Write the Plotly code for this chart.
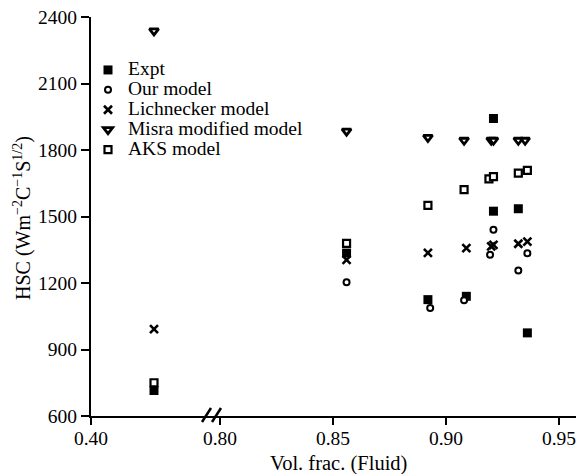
import plotly.graph_objects as go

# ---- data ----
series_names = ["Expt", "Our model", "Lichnecker model", "Misra modified model", "AKS model"]

expt_x = [0.60, 0.856, 0.892, 0.909, 0.921, 0.921, 0.932, 0.936]
expt_y = [715, 1335, 1125, 1140, 1942, 1524, 1535, 975]

our_x = [0.60, 0.856, 0.893, 0.908, 0.921, 0.9195, 0.932, 0.936]
our_y = [745, 1203, 1087, 1122, 1440, 1327, 1256, 1334]

lich_x = [0.60, 0.856, 0.892, 0.909, 0.920, 0.921, 0.932, 0.936]
lich_y = [992, 1304, 1336, 1357, 1365, 1372, 1377, 1387]

misra_x = [0.60, 0.856, 0.892, 0.908, 0.920, 0.921, 0.932, 0.935]
misra_y = [2337, 1885, 1857, 1844, 1844, 1844, 1844, 1844]

aks_x = [0.60, 0.856, 0.892, 0.908, 0.919, 0.921, 0.932, 0.936]
aks_y = [750, 1379, 1550, 1621, 1670, 1680, 1696, 1708]

left_ticks = [0.40]
right_ticks = [0.80, 0.85, 0.90, 0.95]
y_ticks = [600, 900, 1200, 1500, 1800, 2100, 2400]

BREAK = 0.78  # values below go on the left segment

FONT = "Liberation Serif"
FS = 19.5

styles = [
    dict(symbol="square", size=9, color="black", line=dict(color="black", width=0)),
    dict(symbol="circle", size=6, color="white", line=dict(color="black", width=2)),
    dict(symbol="x-thin", size=8, color="black", line=dict(color="black", width=2.6)),
    dict(symbol="triangle-down", size=8, color="white", line=dict(color="black", width=2.8)),
    dict(symbol="square", size=7, color="white", line=dict(color="black", width=2.2)),
]
data = [(expt_x, expt_y), (our_x, our_y), (lich_x, lich_y), (misra_x, misra_y), (aks_x, aks_y)]

fig = go.Figure()
for name, (xs, ys), st in zip(series_names, data, styles):
    lx = [x for x in xs if x < BREAK]
    ly = [y for x, y in zip(xs, ys) if x < BREAK]
    rx = [x for x in xs if x >= BREAK]
    ry = [y for x, y in zip(xs, ys) if x >= BREAK]
    fig.add_trace(go.Scatter(x=rx, y=ry, mode="markers",
                             name='<span style="font-size:%spx">%s</span>' % (FS, name),
                             marker=st, xaxis="x2", yaxis="y", legendgroup=name))
    fig.add_trace(go.Scatter(x=lx, y=ly, mode="markers", name=name, marker=st,
                             xaxis="x", yaxis="y", legendgroup=name, showlegend=False))

# page is offset by the 8px body margin
OFF = 8
W, H = 584 - OFF, 474 - OFF
L, R, T, B = 91 - OFF, 0, 17 - OFF, 58
pw = W - L - R
ph = H - T - B
bx = 212  # break pixel (page coords)
d = (bx - 91) / pw

def px(x):  # page px -> paper
    return (x - OFF - L) / pw

def py(y):
    return (H - B - (y - OFF)) / ph

axis_common = dict(showline=True, linecolor="black", linewidth=2, ticks="outside",
                   tickwidth=2, tickcolor="black", showgrid=False, zeroline=False,
                   ticklabeloverflow="allow",
                   tickfont=dict(family=FONT, size=FS, color="black"))

fig.update_layout(
    width=W, height=H,
    margin=dict(l=L, r=R, t=T, b=B),
    paper_bgcolor="white", plot_bgcolor="white",
    font=dict(family=FONT, size=FS, color="black"),
    xaxis=dict(domain=[0, d], range=[0.40, 0.40 + (bx - 91) / 315.0],
               tickvals=left_ticks, ticktext=["%.2f" % v for v in left_ticks],
               anchor="y", ticklen=7, ticklabelstandoff=-3, **axis_common),
    xaxis2=dict(domain=[d, 1], range=[0.80 - 8 / 2260.0, 0.80 - 8 / 2260.0 + (584 - bx) / 2260.0],
                tickvals=right_ticks, ticktext=["%.2f" % v for v in right_ticks],
                anchor="y", ticklen=7, ticklabelstandoff=-3, **axis_common),
    yaxis=dict(range=[600, 2400], tickvals=y_ticks, ticktext=[str(v) for v in y_ticks],
               ticklen=8, **axis_common),
    legend=dict(x=px(88), y=py(55), xanchor="left", yanchor="top",
                font=dict(family=FONT, size=13, color="black"),
                bgcolor="rgba(0,0,0,0)", itemwidth=30, tracegroupgap=0),
    showlegend=True,
)

fig.add_annotation(text="Vol. frac. (Fluid)", xref="paper", yref="paper",
                   x=px(338), y=py(463), xanchor="center", yanchor="middle", showarrow=False,
                   font=dict(family=FONT, size=20.5, color="black"))
fig.add_annotation(text="HSC (Wm<sup>−2</sup>C<sup>−1</sup>S<sup>1/2</sup>)", xref="paper", yref="paper",
                   x=px(22), y=py(218), xanchor="center", yanchor="middle", showarrow=False,
                   textangle=-90, font=dict(family=FONT, size=20, color="black"))

# axis-break marks
for (x0, y0, x1, y1) in [(202, 422, 211, 408), (212, 422, 221, 408)]:
    fig.add_shape(type="line", xref="paper", yref="paper",
                  x0=px(x0), y0=py(y0), x1=px(x1), y1=py(y1),
                  line=dict(color="black", width=2.5))

fig.write_html("out.html")
